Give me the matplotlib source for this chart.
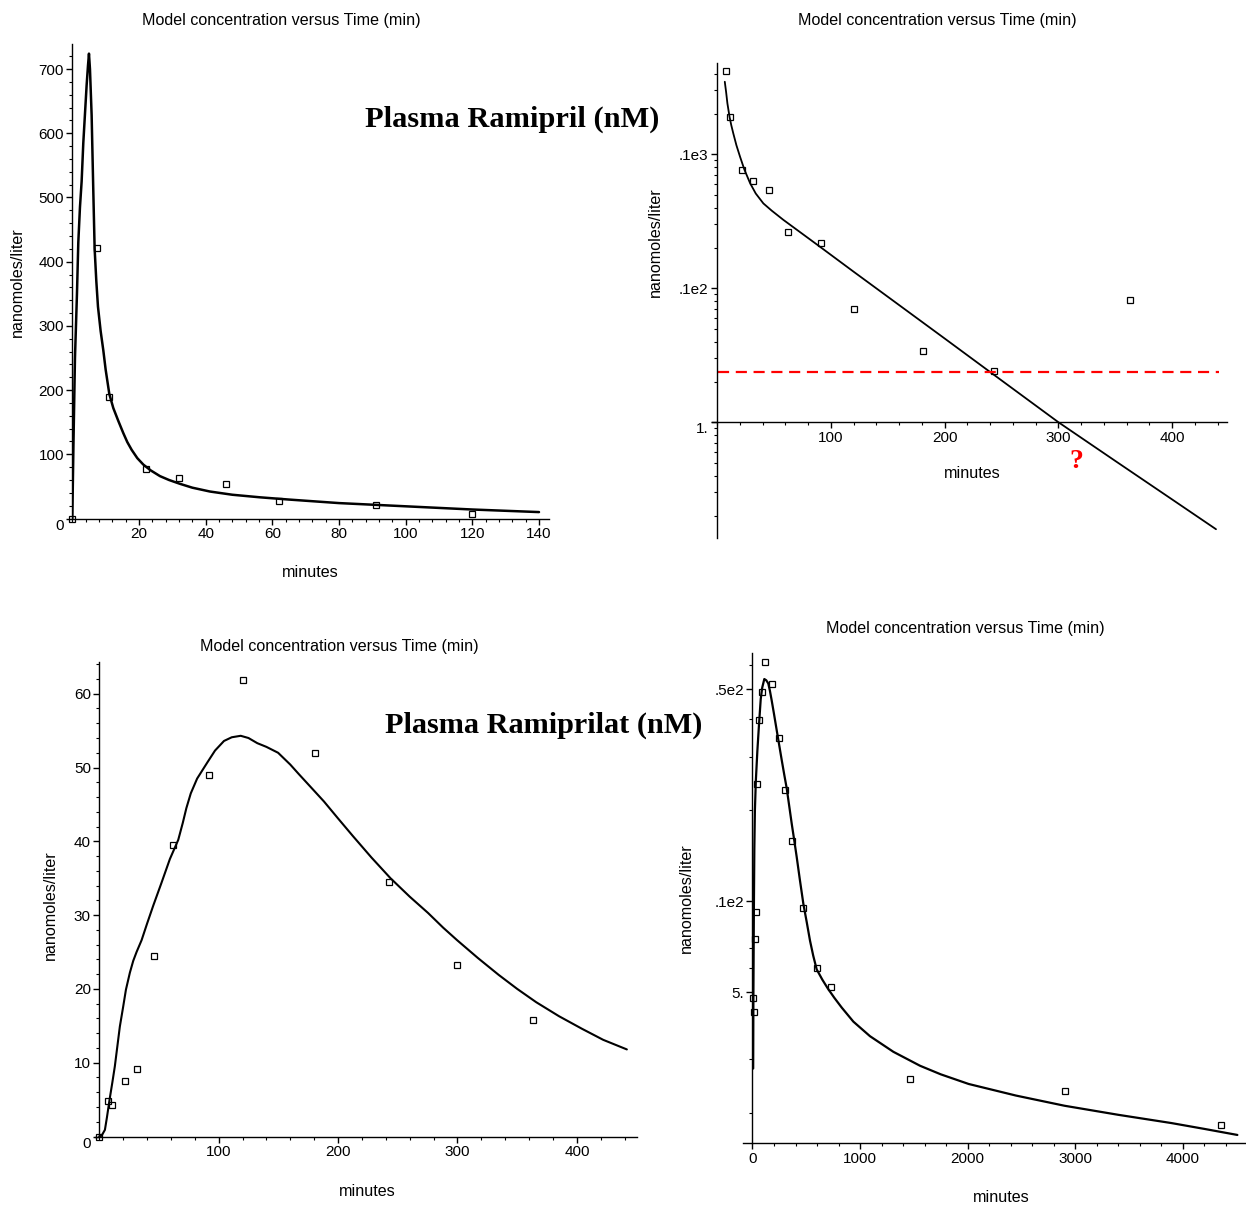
import numpy as np
import matplotlib
matplotlib.use('Agg')
import matplotlib.pyplot as plt
from matplotlib.ticker import MultipleLocator, FixedLocator, LogLocator, NullFormatter

# --- data ---
# Ramipril observed (min, nM)
t_ram = [0, 7.5, 11, 22, 32, 46, 62, 91, 120, 181, 243, 363]
c_ram = [0, 421, 189, 77, 63, 54, 26.5, 21.8, 7, 3.4, 2.4, 8.2]

# Ramipril model, linear panel
t_ram_fit1 = [0, 0.35, 0.8, 1.4, 1.8, 2.3, 2.8, 3.3, 3.8, 4.3, 4.7, 5.0, 5.3, 5.8, 6.3, 6.7, 7.2, 7.7,
              8.5, 9.3, 10, 11.1, 12.3, 13.8, 15.3, 16.5, 17.8, 19.5, 21.3, 23.5, 26.3, 29, 32.3, 36,
              41.3, 48, 56.3, 65, 80, 100, 120, 140]
c_ram_fit1 = [0, 117, 250, 350, 430, 485, 525, 585, 630, 675, 705, 724, 700, 628, 510, 420, 370, 330,
              292, 262, 232, 194, 172, 152, 133, 119, 107, 94, 84, 75, 66, 60, 54, 48,
              42, 37, 33, 29.5, 24, 19, 14, 10]

# Ramipril model, log panel
t_ram_fit2 = [6.8, 8, 9.1, 11, 12.5, 14.3, 17, 20.2, 24, 29, 34, 40.7, 48, 58.3, 90.5, 120, 150,
              200, 243, 300, 350, 400, 438.5]
c_ram_fit2 = [348, 290, 240, 190, 165, 143, 117, 96, 77, 61, 51, 43, 38, 32.4, 20.4, 13.3, 8.65,
              4.22, 2.27, 1.0, 0.514, 0.265, 0.159]

threshold = 2.36
threshold_t = [1, 441]

# Ramiprilat observed (min, nM)
t_rat = [0, 7, 11, 22, 32, 46, 62, 92, 120, 181, 243, 300, 363, 473, 597, 727, 1465, 2905, 4360]
c_rat = [0, 4.8, 4.3, 7.5, 9.2, 24.4, 39.5, 49, 61.8, 52, 34.5, 23.3, 15.8, 9.5, 6.0, 5.2, 2.59, 2.36, 1.82]

# Ramiprilat model, linear panel
t_rat_fit3 = [0, 2, 4.8, 6.5, 8.7, 11, 13.1, 15.2, 17.3, 20.1, 22.4, 25.7, 28.5, 31.3, 35.5, 40, 45.3,
              52, 59.2, 66.2, 70, 73, 76.7, 82, 90.6, 97, 104.5, 111, 118.5, 125, 132.4, 140, 149.8,
              160, 167.2, 178, 188.2, 200, 212.5, 228, 243.9, 260, 275.3, 288, 299.7, 317, 334.5,
              350, 365.9, 385, 404.2, 422, 441.8]
c_rat_fit3 = [0, 0.1, 0.9, 2.6, 5.0, 7.3, 9.5, 12.2, 14.9, 17.6, 19.9, 22.2, 23.8, 25.0, 26.6, 28.8, 31.3,
              34.3, 37.6, 40.2, 42.5, 44.5, 46.5, 48.5, 50.7, 52.3, 53.6, 54.1, 54.3, 54.0, 53.3, 52.8, 52.0,
              50.4, 49.1, 47.2, 45.4, 43.1, 40.7, 37.8, 35.0, 32.5, 30.3, 28.3, 26.6, 24.2, 21.9,
              20.0, 18.2, 16.3, 14.6, 13.1, 11.8]

# Ramiprilat model, log panel
t_rat_fit4 = [6.5, 8.7, 13.1, 17.3, 22.4, 31.3, 45.3, 59.2, 76.7, 90.6, 110, 128, 147, 162, 178, 200,
              225, 250, 272, 295, 318, 340, 365, 388, 411, 440, 473, 505, 535, 565, 597, 650, 700,
              760, 830, 938, 1093, 1310, 1558, 1750, 2010, 2450, 2902, 3400, 3895, 4200, 4509]
c_rat_fit4 = [2.8, 5.0, 9.5, 14.9, 19.9, 25.0, 31.3, 37.6, 46.5, 50.7, 54.1, 53.6, 52.3, 49.5, 46.1, 41.5,
              36.7, 32.5, 29.2, 26.2, 23.6, 20.8, 18.0, 15.9, 14.0, 11.8, 9.8, 8.5, 7.4, 6.6, 5.95, 5.5, 5.15,
              4.8, 4.45, 4.0, 3.58, 3.18, 2.86, 2.68, 2.49, 2.28, 2.11, 1.97, 1.85, 1.77, 1.69]

title = 'Model concentration versus Time (min)'
ylab = 'nanomoles/liter'
xlab = 'minutes'

W, H = 1246, 1207
fig = plt.figure(figsize=(W / 100, H / 100), dpi=100)

sans = 'Liberation Sans'
tfs = 11.6


def px_axes(x0, x1, ytop, ybot):
    # axes box given in pixel coordinates of the picture
    return fig.add_axes([x0 / W, 1 - ybot / H, (x1 - x0) / W, (ybot - ytop) / H])


def px_text(x, y, s, **kw):
    fig.text(x / W, 1 - y / H, s, ha='center', va='center', **kw)


def style(ax):
    ax.set_facecolor('none')
    for s in ['top', 'right']:
        ax.spines[s].set_visible(False)
    for s in ['left', 'bottom']:
        ax.spines[s].set_linewidth(1.0)
    ax.tick_params(which='major', length=4, width=1.0, pad=2, labelsize=11)
    ax.tick_params(which='minor', length=2, width=0.8)
    for lab in ax.get_xticklabels() + ax.get_yticklabels():
        lab.set_fontfamily(sans)


mk = dict(ls='none', marker='s', ms=4.2, mfc='none', mec='black', mew=0.9, clip_on=False)
ln = dict(color='black', solid_joinstyle='round', solid_capstyle='round')

# --- top left: Ramipril, linear ---
ax1 = px_axes(72.3, 549, 44, 518.5)
ax1.plot(t_ram_fit1, c_ram_fit1, lw=1.8, **ln)
ax1.plot([t for t in t_ram if t <= 140], [c for t, c in zip(t_ram, c_ram) if t <= 140], **mk)
ax1.set_xlim(0, 143)
ax1.set_ylim(0, 739)
ax1.set_xticks([20, 40, 60, 80, 100, 120, 140])
ax1.xaxis.set_minor_locator(MultipleLocator(4))
ax1.set_yticks(range(0, 701, 100))
ax1.yaxis.set_minor_locator(MultipleLocator(20))
style(ax1)
ax1.get_yticklabels()[0].set_va('top')

# --- top right: Ramipril, log ---
ax2 = px_axes(711.7, 1226.7, 62.7, 538.3)
ax2.set_yscale('log')
ax2.plot(t_ram_fit2, c_ram_fit2, lw=1.3, **ln)
ax2.plot([t for t, c in zip(t_ram, c_ram) if c > 0], [c for c in c_ram if c > 0], **mk)
ax2.plot(threshold_t, [threshold, threshold], color='red', ls=(0, (5, 3)), lw=1.6)
ax2.set_xlim(-4.7, 447.9)
ax2.set_ylim(0.136, 483)
ax2.spines['left'].set_position(('data', 0))
ax2.spines['bottom'].set_position(('data', 1))
ax2.set_xticks([100, 200, 300, 400])
ax2.xaxis.set_minor_locator(MultipleLocator(20))
ax2.set_yticks([1, 10, 100], ['1.', '.1e2', '.1e3'])
ax2.yaxis.set_minor_locator(LogLocator(base=10, subs=np.arange(2, 10)))
ax2.yaxis.set_minor_formatter(NullFormatter())
style(ax2)
ax2.get_yticklabels()[0].set_va('top')

# --- bottom left: Ramiprilat, linear ---
ax3 = px_axes(95, 637, 662, 1136.5)
ax3.plot(t_rat_fit3, c_rat_fit3, lw=1.5, **ln)
ax3.plot([t for t in t_rat if t <= 450], [c for t, c in zip(t_rat, c_rat) if t <= 450], **mk)
ax3.set_xlim(-3.5, 450.3)
ax3.set_ylim(0, 64.3)
ax3.spines['left'].set_position(('data', 0))
ax3.set_xticks([100, 200, 300, 400])
ax3.xaxis.set_minor_locator(MultipleLocator(20))
ax3.set_yticks(range(0, 61, 10))
ax3.yaxis.set_minor_locator(MultipleLocator(2))
style(ax3)
ax3.get_yticklabels()[0].set_va('top')

# --- bottom right: Ramiprilat, log ---
ax4 = px_axes(742.7, 1245, 653.3, 1143.3)
ax4.set_yscale('log')
ax4.plot(t_rat_fit4, c_rat_fit4, lw=1.6, **ln)
ax4.plot([t for t, c in zip(t_rat, c_rat) if c > 0], [c for c in c_rat if c > 0], **mk)
ax4.set_xlim(-91, 4580)
ax4.set_ylim(1.586, 65.8)
ax4.spines['left'].set_position(('data', 0))
ax4.set_xticks([0, 1000, 2000, 3000, 4000])
ax4.xaxis.set_minor_locator(MultipleLocator(200))
ax4.set_yticks([5, 10, 50], ['5.', '.1e2', '.5e2'])
ax4.yaxis.set_minor_locator(FixedLocator([2, 3, 6, 7, 20, 30, 40, 60]))
ax4.yaxis.set_minor_formatter(NullFormatter())
style(ax4)

# --- texts ---
for (x, y) in [(281, 20), (937, 20), (339, 647), (965, 628)]:
    px_text(x, y, title, fontsize=tfs, family=sans)
for (x, y) in [(17, 282), (655, 242), (50, 905), (686, 898)]:
    px_text(x, y, ylab, fontsize=tfs, family=sans, rotation=90)
for (x, y) in [(310, 572), (972, 474), (367, 1191), (1001, 1198)]:
    px_text(x, y, xlab, fontsize=tfs, family=sans)

px_text(512, 119, 'Plasma Ramipril (nM)', fontsize=21.9, family='Liberation Serif', weight='bold')
px_text(544, 725, 'Plasma Ramiprilat (nM)', fontsize=21.8, family='Liberation Serif', weight='bold')
px_text(1076.7, 461.7, '?', fontsize=20, family='Liberation Serif', weight='bold', color='red')

fig.savefig('out.png', dpi=100)
